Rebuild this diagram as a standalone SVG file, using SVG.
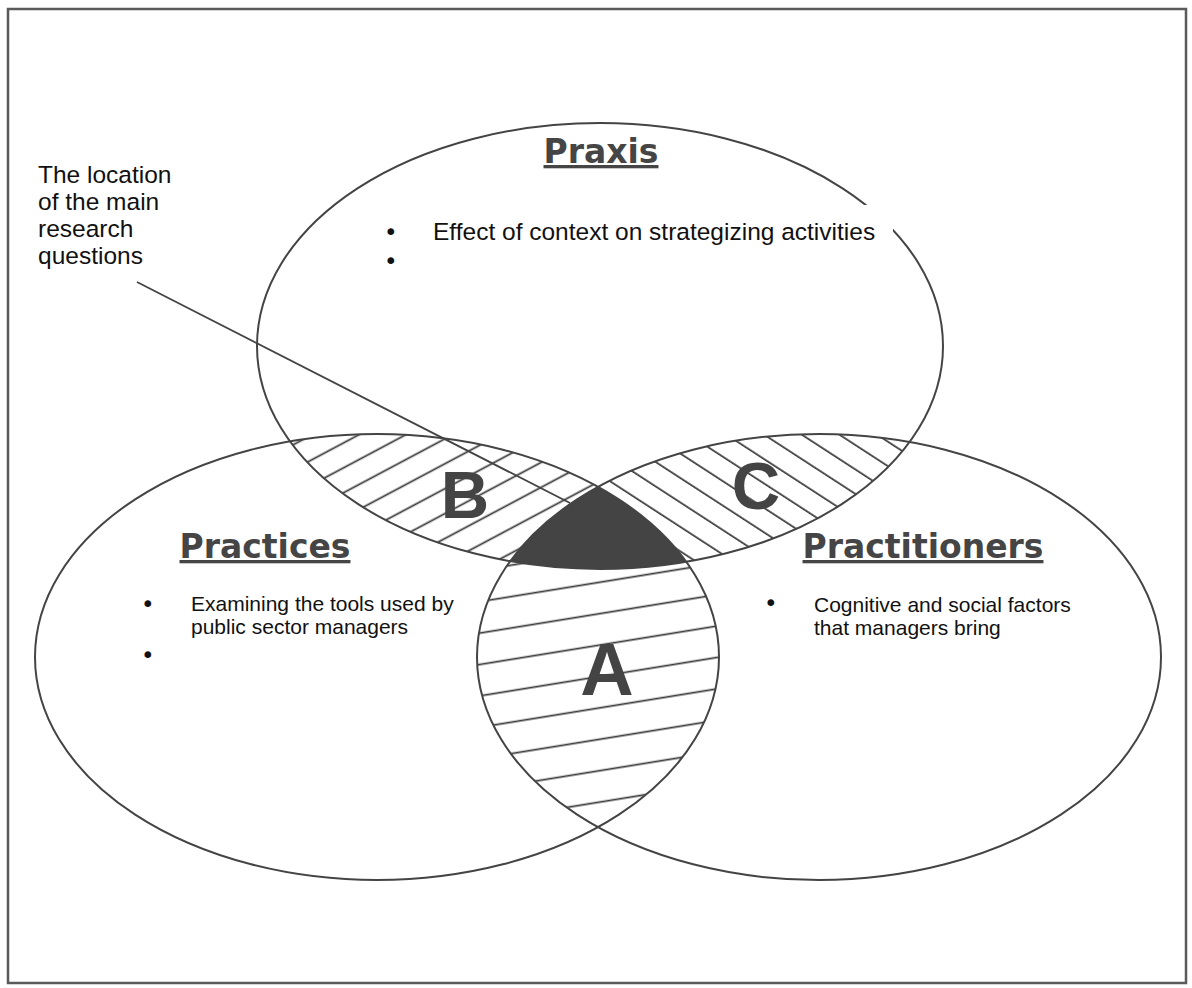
<svg xmlns="http://www.w3.org/2000/svg" width="1192" height="988" viewBox="0 0 1192 988">
<style>
.ell{fill:none;stroke:#444;stroke-width:2}
.hl{stroke:#3a3a3a;stroke-width:1.7}
.title{font-family:"DejaVu Sans",sans-serif;font-weight:bold;font-size:33px;fill:#454545;text-anchor:middle;text-decoration:underline}
.big{font-family:"Liberation Sans",Arial,sans-serif;font-weight:bold;fill:#444;text-anchor:middle}
.body{font-family:"Liberation Sans",Arial,sans-serif;font-size:21px;fill:#111}
.lbl{font-family:"Liberation Sans",Arial,sans-serif;font-size:24.5px;fill:#111}
.bul{font-family:"DejaVu Sans",sans-serif;fill:#111;font-size:23px}
</style>
<defs>
<clipPath id="cPraxis"><ellipse cx="600" cy="346" rx="343" ry="223"/></clipPath>
<clipPath id="cPractices"><ellipse cx="377" cy="657" rx="342" ry="223"/></clipPath>
<clipPath id="cPractitioners"><ellipse cx="819" cy="657" rx="342" ry="223"/></clipPath>
<pattern id="hatchA" patternUnits="userSpaceOnUse" width="40" height="31" patternTransform="rotate(-9.2)">
<line class="hl" x1="-1" y1="19.6" x2="41" y2="19.6"/>
</pattern>
<pattern id="hatchB" patternUnits="userSpaceOnUse" width="40" height="22" patternTransform="rotate(-28)">
<line class="hl" x1="-1" y1="2.4" x2="41" y2="2.4"/>
</pattern>
<pattern id="hatchC" patternUnits="userSpaceOnUse" width="40" height="20.5" patternTransform="rotate(33)">
<line class="hl" x1="-1" y1="10" x2="41" y2="10"/>
</pattern>
</defs>
<rect x="0" y="0" width="1192" height="988" fill="#fff"/>
<rect x="8" y="9" width="1178" height="974" fill="none" stroke="#5a5a5a" stroke-width="2.5"/>

<g id="regions">
<g id="regionB" clip-path="url(#cPraxis)"><rect x="0" y="0" width="1192" height="988" fill="url(#hatchB)" clip-path="url(#cPractices)"/></g>
<g id="regionC" clip-path="url(#cPraxis)"><rect x="0" y="0" width="1192" height="988" fill="url(#hatchC)" clip-path="url(#cPractitioners)"/></g>
<g id="regionA" clip-path="url(#cPractices)"><rect x="0" y="0" width="1192" height="988" fill="url(#hatchA)" clip-path="url(#cPractitioners)"/></g>
<g id="regionCore" clip-path="url(#cPraxis)"><g clip-path="url(#cPractices)"><rect x="0" y="0" width="1192" height="988" fill="#444" clip-path="url(#cPractitioners)"/></g></g>
</g>

<g id="praxis">
<ellipse class="ell" cx="600" cy="346" rx="343" ry="223"/>
</g>
<g id="practices">
<ellipse class="ell" cx="377" cy="657" rx="342" ry="223"/>
</g>
<g id="practitioners">
<ellipse class="ell" cx="819" cy="657" rx="342" ry="223"/>
</g>

<g id="praxis-text">
<rect x="362" y="205" width="531" height="150" fill="#fff"/>
<text class="title" x="601" y="163">Praxis</text>
<text class="bul" x="384" y="240">•</text>
<text class="lbl" x="433" y="240" font-size="25">Effect of context on strategizing activities</text>
<text class="bul" x="384" y="269">•</text>
</g>

<g id="practices-text">
<text class="title" x="265" y="558">Practices</text>
<text class="bul" x="141" y="612">•</text>
<text class="body" x="191" y="611">Examining the tools used by</text>
<text class="body" x="191" y="634">public sector managers</text>
<text class="bul" x="141" y="663">•</text>
</g>

<g id="practitioners-text">
<text class="title" x="923" y="558">Practitioners</text>
<text class="bul" x="764" y="611">•</text>
<text class="body" x="814" y="612">Cognitive and social factors</text>
<text class="body" x="814" y="635">that managers bring</text>
</g>

<g id="labelB"><text class="big" x="465" y="518" font-size="67">B</text></g>
<g id="labelC"><text class="big" x="756" y="509" font-size="67">C</text></g>
<g id="labelA"><text class="big" x="607" y="695" font-size="74">A</text></g>

<g id="note">
<text class="lbl" x="38" y="183">The location</text>
<text class="lbl" x="38" y="210">of the main</text>
<text class="lbl" x="38" y="237">research</text>
<text class="lbl" x="38" y="264">questions</text>
</g>

<g id="connectors">
<line x1="137" y1="282" x2="570" y2="503" stroke="#444" stroke-width="1.8"/>
</g>
</svg>
